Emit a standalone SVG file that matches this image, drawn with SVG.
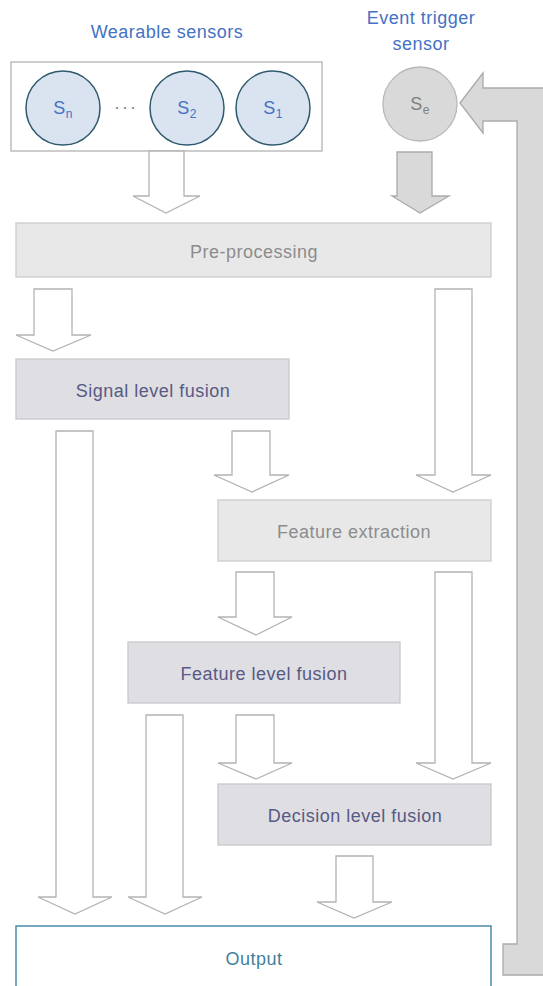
<svg xmlns="http://www.w3.org/2000/svg" width="543" height="986" viewBox="0 0 543 986">
<style>
text{font-family:"Liberation Sans",Arial,sans-serif;font-size:18px;letter-spacing:0.5px;text-anchor:middle}
.blue{fill:#4472c4}
.gray{fill:#8c8c8c}
.purple{fill:#575a85}
.teal{fill:#3f7f9c}
.arr{fill:#ffffff;stroke:#b3b3b3;stroke-width:1.3}
.arrf{fill:#d9d9d9;stroke:#aaaaaa;stroke-width:1.3}
.boxg{fill:#e8e8e8;stroke:#cccccc;stroke-width:1.3}
.boxp{fill:#dfdee3;stroke:#c8c8cc;stroke-width:1.3}
.sens{fill:#dae3f0;stroke:#2f5a6e;stroke-width:1.5}
</style>
<g id="labels">
<text class="blue" x="167" y="38">Wearable sensors</text>
<text class="blue" x="421" y="24">Event trigger</text>
<text class="blue" x="421" y="50">sensor</text>
</g>
<g id="wearable">
<rect x="11" y="62" width="311" height="89" fill="#ffffff" stroke="#b3b3b3" stroke-width="1.3"/>
<circle class="sens" cx="63" cy="108" r="37"/>
<text class="blue" x="63" y="114">S<tspan font-size="12" dy="4">n</tspan></text>
<text x="126" y="113" fill="#7f7f7f" font-size="14" style="letter-spacing:2px">···</text>
<circle class="sens" cx="187" cy="108" r="37"/>
<text class="blue" x="187" y="114">S<tspan font-size="12" dy="4">2</tspan></text>
<circle class="sens" cx="273" cy="108" r="37"/>
<text class="blue" x="273" y="114">S<tspan font-size="12" dy="4">1</tspan></text>
</g>
<g id="event">
<circle cx="420" cy="104" r="37" fill="#d9d9d9" stroke="#b8b8b8" stroke-width="1.3"/>
<text x="420" y="110" fill="#808080">S<tspan font-size="12" dy="4">e</tspan></text>
</g>
<g id="preprocessing">
<rect class="boxg" x="16" y="223" width="475" height="54"/>
<text class="gray" x="254" y="258">Pre-processing</text>
</g>
<g id="signal">
<rect class="boxp" x="16" y="359" width="273" height="60"/>
<text class="purple" x="153" y="397">Signal level fusion</text>
</g>
<g id="feature-extraction">
<rect class="boxg" x="218" y="500" width="273" height="61"/>
<text class="gray" x="354" y="538">Feature extraction</text>
</g>
<g id="feature">
<rect class="boxp" x="128" y="642" width="272" height="61"/>
<text class="purple" x="264" y="680">Feature level fusion</text>
</g>
<g id="decision">
<rect class="boxp" x="218" y="784" width="273" height="61"/>
<text class="purple" x="355" y="822">Decision level fusion</text>
</g>
<g id="output">
<rect x="16" y="926" width="475" height="70" fill="#ffffff" stroke="#4a8aa8" stroke-width="1.5"/>
<text class="teal" x="254" y="965">Output</text>
</g>
<g id="connectors">
<polygon class="arr" points="149,151 184,151 184,196 200,196 166,213 133,196 149,196"/>
<polygon class="arrf" points="397,152 432,152 432,196 449,196 420,213 392,196 397,196"/>
<polygon class="arr" points="34,289 72,289 72,335 91,335 53,351 16,335 34,335"/>
<polygon class="arr" points="435,289 472,289 472,475 491,475 453,492 416,475 435,475"/>
<polygon class="arr" points="232,431 270,431 270,475 289,475 252,492 214,475 232,475"/>
<polygon class="arr" points="56,431 93,431 93,897 112,897 75,914 38,897 56,897"/>
<polygon class="arr" points="236,572 274,572 274,617 292,617 256,635 218,617 236,617"/>
<polygon class="arr" points="435,572 472,572 472,763 491,763 453,779 416,763 435,763"/>
<polygon class="arr" points="146,715 183,715 183,897 202,897 165,914 128,897 146,897"/>
<polygon class="arr" points="236,715 274,715 274,763 292,763 256,779 218,763 236,763"/>
<polygon class="arr" points="336,856 373,856 373,902 392,902 354,918 317,902 336,902"/>
<polygon class="arrf" points="460,103 483,73 483,88 560,88 560,975 503,975 503,944 517,944 517,121 483,121 483,133"/>
</g>
</svg>
